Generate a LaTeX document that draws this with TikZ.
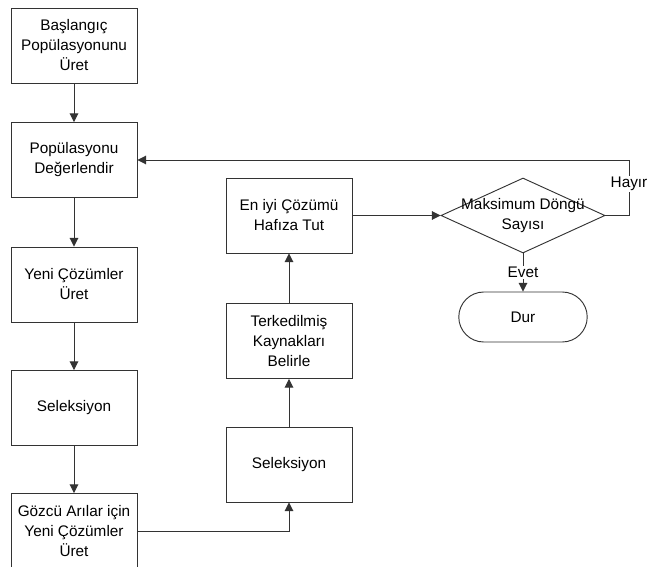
\documentclass[tikz,border=0pt]{standalone}
\usepackage{fontspec}
\setmainfont{Liberation Sans}
\usetikzlibrary{arrows.meta,shapes.geometric,shapes.misc}

\begin{document}
\begin{tikzpicture}[x=0.75pt, y=-0.75pt, >={Triangle[length=6.5pt,width=6.5pt]},
    every node/.style={font=\fontsize{11.5}{15}\selectfont, text=black},
    box/.style={draw=black!80, line width=0.7pt, rectangle, align=center,
        minimum width=94.5pt, minimum height=56.25pt, inner sep=2pt},
    line/.style={draw=black!80, line width=0.7pt},
    tag/.style={fill=white, inner sep=1pt}]
    \useasboundingbox (0,0) rectangle (647,567);

    % left column
    \node[box] (start) at (74,45.5) {Başlangıç\\Popülasyonunu\\Üret};
    \node[box] (eval) at (74,160) {Popülasyonu\\Değerlendir};
    \node[box] (newsol) at (74,284.5) {Yeni Çözümler\\Üret};
    \node[box] (sel) at (74,408) {Seleksiyon};
    \node[box] (onlook) at (74,531) {Gözcü Arılar için\\Yeni Çözümler\\Üret};

    % middle column
    \node[box] (selb) at (289,464.5) {Seleksiyon};
    \node[box] (scout) at (289,341) {Terkedilmiş\\Kaynakları\\Belirle};
    \node[box] (best) at (289,215.5) {En iyi Çözümü\\Hafıza Tut};

    % decision and stop
    \node[draw=black!80, line width=0.7pt, diamond, inner sep=0pt,
        minimum width=123pt, minimum height=56.25pt] (dec) at (523,215.5) {};
    \node[align=center] (dectext) at (dec.center) {Maksimum Döngü\\Sayısı};
    \node[draw=black!80, line width=0.7pt, rounded rectangle,
        minimum width=103pt, minimum height=37.5pt] (stop) at (523,317) {Dur};
    \coordinate (back) at (629,160);

    % arrows
    \draw[line,->] (start) -- (eval);
    \draw[line,->] (eval) -- (newsol);
    \draw[line,->] (newsol) -- (sel);
    \draw[line,->] (sel) -- (onlook);
    \draw[line,->] (onlook.east) -| (selb.south);
    \draw[line,->] (selb) -- (scout);
    \draw[line,->] (scout) -- (best);
    \draw[line,->] (best) -- (dec.west);
    \draw[line,->] (dec.south) -- (stop.north)
        node[tag, pos=0.5] (yes) {Evet};
    \draw[line,->] (dec.east) -- (dec.east -| back) -- (back) -- (eval.east);
    \node[tag] (no) at (629,184) {Hayır};
\end{tikzpicture}
\end{document}
